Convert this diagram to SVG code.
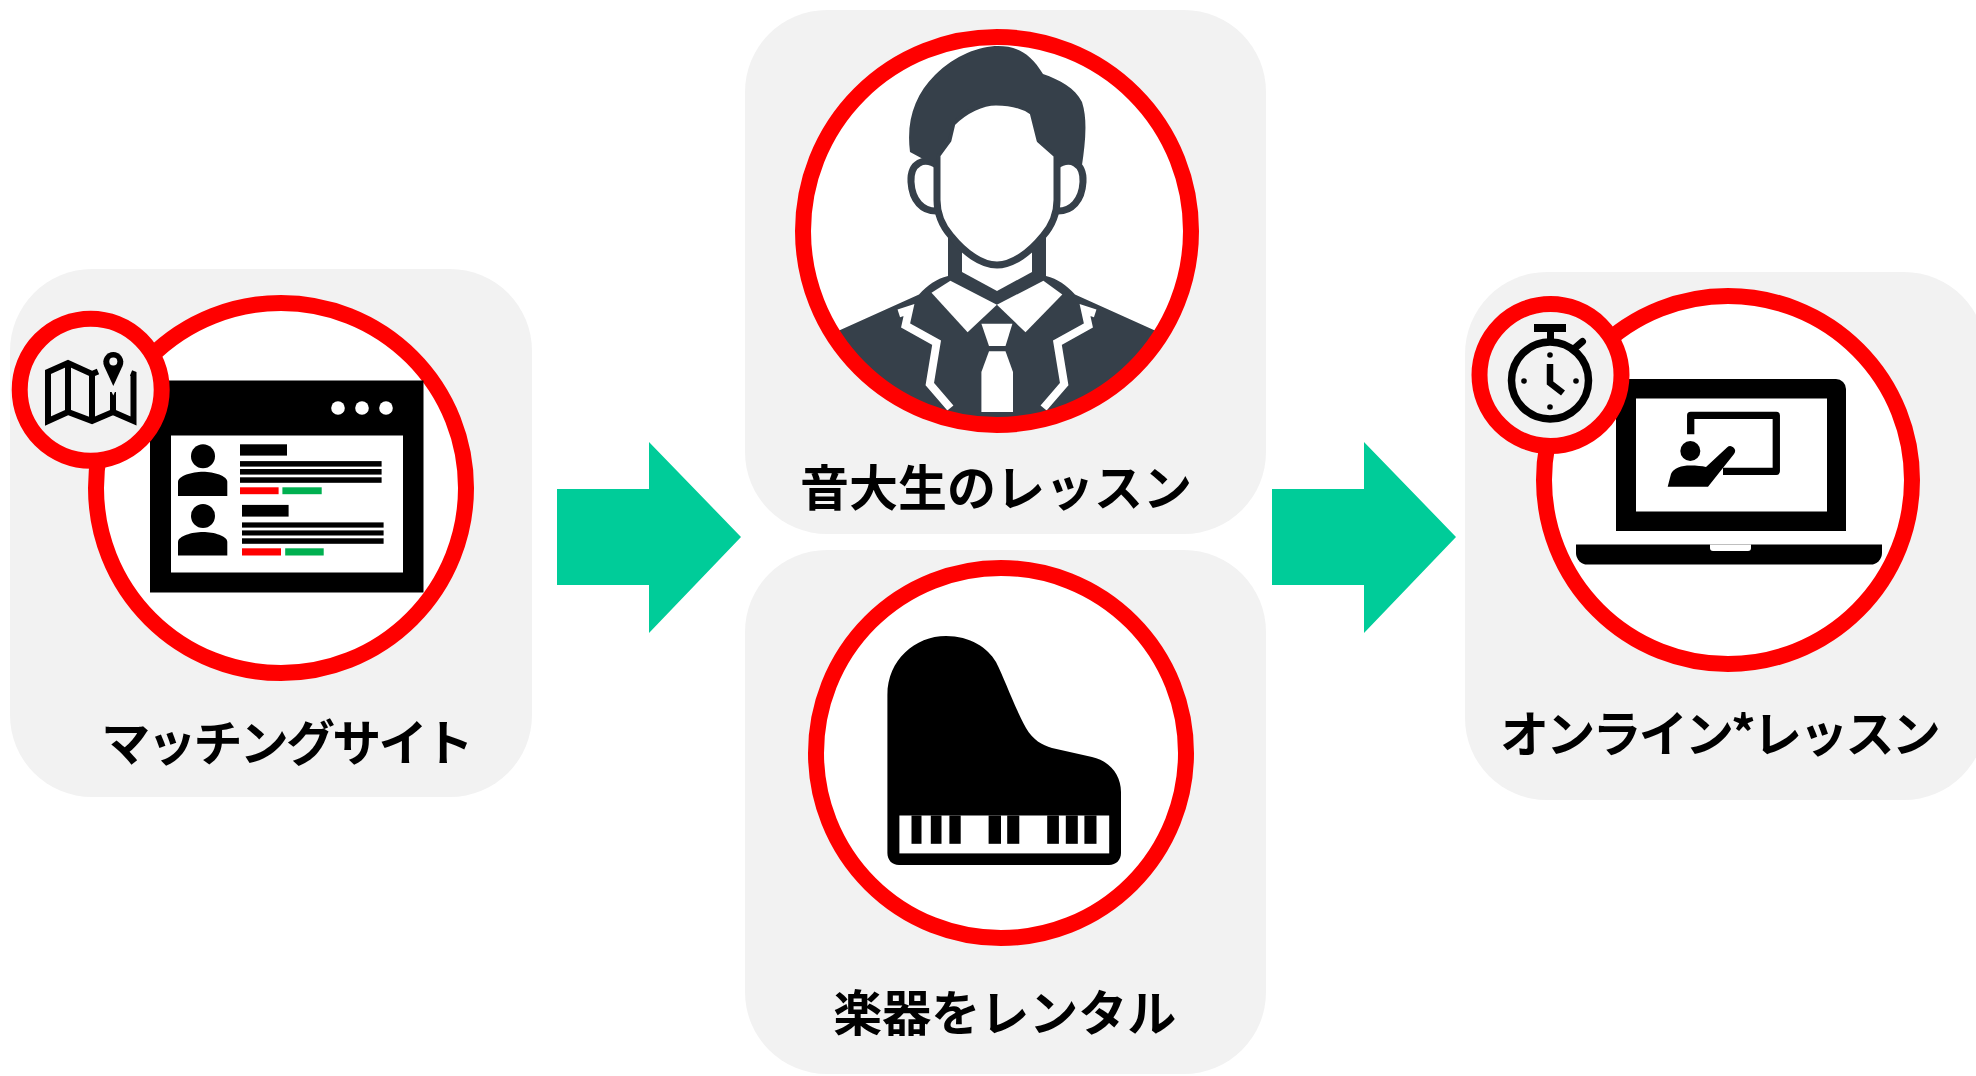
<svg xmlns="http://www.w3.org/2000/svg" width="1976" height="1076" viewBox="0 0 1976 1076">
  <style>
    .box { fill: #f2f2f2; }
    .ring { fill: #ffffff; stroke: #ff0000; stroke-width: 16; }
    .ring-s { fill: #f2f2f2; stroke: #ff0000; stroke-width: 16; }
    .ring-top { fill: none; stroke: #ff0000; stroke-width: 16; }
    .arrow { fill: #00cc99; }
    .ink { fill: #000000; }
    .slate { fill: #36404a; }
    .white { fill: #ffffff; }
    .label { font-family: "Noto Sans CJK JP", "Noto Sans", sans-serif; font-size: 49px; font-weight: 700; fill: #000000; text-anchor: middle; }
    .kana { letter-spacing: -2.8px; }
  </style>
  <defs>
    <clipPath id="clip-student">
      <circle cx="997" cy="231" r="194"/>
    </clipPath>
  </defs>

  <rect width="1976" height="1076" fill="#ffffff"/>

  <!-- Step 1: matching site -->
  <g id="node-matching">
    <rect class="box" x="10" y="269" width="522" height="528" rx="82"/>
    <circle class="ring" cx="281" cy="488" r="185"/>
    <!-- browser window -->
    <rect class="ink" x="150" y="380.5" width="273.5" height="212"/>
    <rect class="white" x="171" y="435.5" width="232" height="137"/>
    <circle class="white" cx="338" cy="408" r="6.8"/>
    <circle class="white" cx="362" cy="408" r="6.8"/>
    <circle class="white" cx="386" cy="408" r="6.8"/>
    <!-- profile row 1 -->
    <circle class="ink" cx="203" cy="456.3" r="12"/>
    <path class="ink" d="M178,496 L178,482 C178,476 192,471.8 203,471.8 C214,471.8 227.3,476 227.3,482 L227.3,496 Z"/>
    <rect class="ink" x="240" y="444.3" width="47" height="11.3"/>
    <rect class="ink" x="240" y="461.1" width="141.6" height="5.5"/>
    <rect class="ink" x="240" y="469" width="141.6" height="5.6"/>
    <rect class="ink" x="240" y="477.3" width="141.6" height="5.5"/>
    <rect x="240" y="487.3" width="38.6" height="6.9" fill="#ff0000"/>
    <rect x="282.4" y="487.3" width="39.3" height="6.9" fill="#00b050"/>
    <!-- profile row 2 -->
    <circle class="ink" cx="203" cy="515.9" r="12"/>
    <path class="ink" d="M178,555.5 L178,542 C178,536 192,532 203,532 C214,532 227.3,536 227.3,542 L227.3,555.5 Z"/>
    <rect class="ink" x="242" y="504.9" width="46.6" height="11.7"/>
    <rect class="ink" x="242" y="522.4" width="141.6" height="5.2"/>
    <rect class="ink" x="242" y="530.4" width="141.6" height="5.1"/>
    <rect class="ink" x="242" y="538.3" width="141.6" height="5.5"/>
    <rect x="242" y="548.3" width="39" height="7.2" fill="#ff0000"/>
    <rect x="285.2" y="548.3" width="38.5" height="7.2" fill="#00b050"/>
    <!-- map badge -->
    <circle class="ring-s" cx="90.7" cy="389.7" r="71"/>
    <g fill="none" stroke="#000000" stroke-width="6" stroke-linejoin="miter">
      <path d="M98,371.5 L92,374 L68,363 L48,372 L48,421 L68,412 L92,421 L113,412 L133.5,421 L133.5,374 L131,373"/>
      <path d="M68,363 L68,412 M92,374 L92,421 M113,392 L113,412"/>
    </g>
    <path d="M113.3,386 L104.2,366.2 A10,10 0 1 1 122.4,366.2 Z" fill="#000000" stroke="#f2f2f2" stroke-width="8" paint-order="stroke"/>
    <circle cx="113.3" cy="361.5" r="4" fill="#f2f2f2"/>
    <text class="label kana" x="286" y="761">マッチングサイト</text>
  </g>

  <!-- Step 2a: lessons from music students -->
  <g id="node-student">
    <rect class="box" x="745" y="10" width="521" height="524" rx="82"/>
    <circle cx="997" cy="231" r="194" fill="#ffffff"/>
    <g clip-path="url(#clip-student)">
      <!-- suit and neck -->
      <path class="slate" d="M838,331 L919,294.5 C928,285 936,279 948,276 L1046,276 C1058,279 1066,285 1075,294.5 L1156,331 L1175,440 L820,440 Z"/>
      <rect class="slate" x="948" y="220" width="98" height="62"/>
      <polygon class="white" points="962,245 1032,245 1032,272 997,291 962,272"/>
      <polygon class="white" points="931.5,292.7 950.4,280.7 996.9,304.8 967.6,332.3"/>
      <polygon class="white" points="996.9,304.8 1043.4,280.7 1062.3,294.5 1025.5,332.3"/>
      <polygon class="white" points="981.4,323.7 1012.4,323.7 1005.5,346 989,346"/>
      <polygon class="white" points="989,351.3 1005.5,351.3 1013,372 1013,412 981.4,412 981.4,372"/>
      <g id="lapel" fill="none" stroke="#ffffff" stroke-width="8">
        <polyline points="898.8,313.4 909,310 905.6,325.5 936.6,342.7 929.8,384 950.4,408"/>
      </g>
      <use href="#lapel" transform="translate(1994,0) scale(-1,1)"/>
      <!-- head -->
      <g fill="#ffffff" stroke="#36404a" stroke-width="7" stroke-linejoin="round">
        <path d="M938,166 C924,156 910,163 911,182 C912,200 922,212 938,211 Z"/>
        <path d="M1056,166 C1070,156 1084,163 1083,182 C1082,200 1072,212 1056,211 Z"/>
        <path d="M952,123 C965,110 982,102 996,102 C1012,102 1025,106 1033,112 L1040,140 L1057,155 L1057,200 C1057,215 1050,228 1043,236 C1030,252 1013,265 997,265 C981,265 964,252 951,236 C944,228 937,215 937,200 L937,155 L948,140 Z"/>
      </g>
      <path class="slate" d="M910,152 C906,120 915,95 935,75 C955,55 980,46 998,46 C1015,46 1030,52 1043,74 C1060,80 1075,88 1082,102 C1088,120 1085,145 1082,165 L1058,162 L1057,155 L1040,140 L1033,112 C1020,104 1005,101 995,101 C980,101 963,110 952,123 L948,140 L937,155 L936,166 Z"/>
    </g>
    <circle class="ring-top" cx="997" cy="231" r="194"/>
    <text class="label" x="996" y="506">音大生のレッスン</text>
  </g>

  <!-- Step 2b: instrument rental -->
  <g id="node-rental">
    <rect class="box" x="745" y="550" width="521" height="524" rx="82"/>
    <circle class="ring" cx="1001" cy="753" r="185"/>
    <path class="ink" d="M887.4,853 L887.4,695 C887.4,660 915,636 946,636 C970,636 988,648 996,662 C1005,680 1015,708 1026,728 C1033,740 1042,745 1052,748 L1092,757 C1110,761 1121,775 1121,792 L1121,853 C1121,860 1116,865 1109,865 L899,865 C892,865 887.4,860 887.4,853 Z"/>
    <rect class="white" x="899.4" y="815.5" width="209.8" height="37.9"/>
    <g class="ink">
      <rect x="911.5" y="815.5" width="10" height="28.3"/>
      <rect x="930.8" y="815.5" width="10.7" height="28.3"/>
      <rect x="949.4" y="815.5" width="11.3" height="28.3"/>
      <rect x="988.6" y="815.5" width="12.4" height="28.3"/>
      <rect x="1007.2" y="815.5" width="12.1" height="28.3"/>
      <rect x="1047.2" y="815.5" width="11.7" height="28.3"/>
      <rect x="1065.8" y="815.5" width="12" height="28.3"/>
      <rect x="1084.4" y="815.5" width="12.1" height="28.3"/>
    </g>
    <text class="label" x="1004.7" y="1031">楽器をレンタル</text>
  </g>

  <!-- Step 3: online lessons -->
  <g id="node-online">
    <rect class="box" x="1465" y="272" width="521" height="528" rx="82"/>
    <circle class="ring" cx="1728" cy="480" r="184"/>
    <g transform="translate(-4,0)">
      <!-- laptop -->
      <path class="ink" d="M1620,531 L1620,389 A10,10 0 0 1 1630,379 L1840,379 A10,10 0 0 1 1850,389 L1850,531 Z"/>
      <rect class="white" x="1640" y="398.5" width="191" height="113"/>
      <path class="ink" d="M1580,544.5 L1886,544.5 L1886,553 A11.5,11.5 0 0 1 1874.5,564.5 L1591.5,564.5 A11.5,11.5 0 0 1 1580,553 Z"/>
      <path class="white" d="M1714,544.5 L1755,544.5 L1755,548 A3,3 0 0 1 1752,551 L1717,551 A3,3 0 0 1 1714,548 Z"/>
      <!-- teacher at a board -->
      <path d="M1694.7,434.3 V415.3 H1780.3 V471.3 H1727" fill="none" stroke="#000000" stroke-width="7.3" stroke-linejoin="round"/>
      <circle class="ink" cx="1694.3" cy="451" r="10"/>
      <path class="ink" d="M1671.7,486.7 L1675,474 C1677,468 1686,465.5 1694,465.5 C1701,465.5 1706,466 1710,467 L1731,447.5 A4.8,4.8 0 0 1 1738,454 L1712,486.7 Z"/>
    </g>
    <!-- stopwatch badge -->
    <circle class="ring-s" cx="1550.5" cy="375" r="71"/>
    <circle cx="1550" cy="380.5" r="38.5" fill="none" stroke="#000000" stroke-width="7.5"/>
    <rect class="ink" x="1534" y="324" width="32" height="8"/>
    <rect class="ink" x="1547" y="331" width="7" height="11"/>
    <line x1="1575" y1="348" x2="1582.5" y2="341.5" stroke="#000000" stroke-width="7" stroke-linecap="round"/>
    <g class="ink">
      <circle cx="1550" cy="355" r="2.8"/>
      <circle cx="1524" cy="381" r="2.8"/>
      <circle cx="1576" cy="381" r="2.8"/>
      <circle cx="1550" cy="407" r="2.8"/>
    </g>
    <polyline points="1550,364 1550,383 1563,393" fill="none" stroke="#000000" stroke-width="6.5"/>
    <text class="label kana" x="1719" y="752">オンライン*レッスン</text>
  </g>

  <!-- flow arrows -->
  <g id="connectors">
    <polygon class="arrow" points="557,489 649,489 649,442 741,537 649,633 649,585 557,585"/>
    <polygon class="arrow" points="1272,489 1364,489 1364,442 1456,537 1364,633 1364,585 1272,585"/>
  </g>
</svg>
